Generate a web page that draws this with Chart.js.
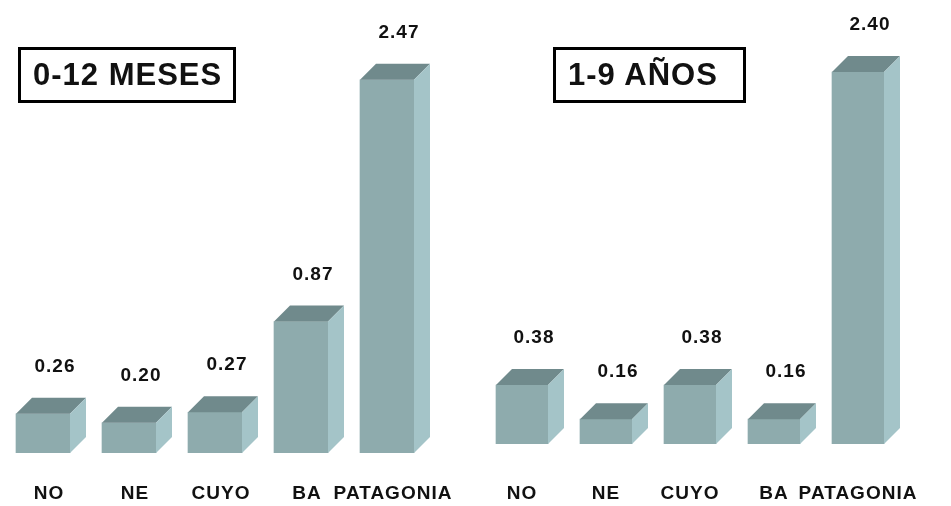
<!DOCTYPE html>
<html>
<head>
<meta charset="utf-8">
<script src="https://cdn.jsdelivr.net/npm/chart.js@4.4.1/dist/chart.umd.min.js"></script>
<style>
    body { margin: 0; background: #fff; }
    #wrap { position: relative; width: 951px; height: 506px; overflow: hidden; }
    canvas { position: absolute; top: 0; }
    #infantChart { left: 0; }
    #childChart { left: 480px; }
    .panel-title {
        position: absolute;
        top: 47px;
        height: 56px;
        box-sizing: border-box;
        border: 3px solid #000;
        padding-left: 12px;
        font: bold 31px 'Liberation Sans', Arial, sans-serif;
        letter-spacing: 1px;
        line-height: 50px;
        color: #111;
        white-space: nowrap;
    }
</style>
</head>
<body>
<div id="wrap">
    <canvas id="infantChart" width="480" height="506"></canvas>
    <canvas id="childChart" width="471" height="506"></canvas>
    <div class="panel-title" id="titleLeft" style="left:18px;width:218px;"></div>
    <div class="panel-title" id="titleRight" style="left:553px;width:193px;"></div>
</div>
<script>
const regions = ['NO', 'NE', 'CUYO', 'BA', 'PATAGONIA'];
const infantRates = [0.26, 0.20, 0.27, 0.87, 2.47];
const childRates = [0.38, 0.16, 0.38, 0.16, 2.40];
const panelTitles = ['0-12 MESES', '1-9 AÑOS'];

const FONT = "'Liberation Sans', Arial, sans-serif";
const DEPTH = 16;
const frontColor = 'rgb(142, 171, 173)';
const topColor = 'rgb(112, 138, 140)';
const sideColor = 'rgb(164, 196, 200)';

document.getElementById('titleLeft').textContent = panelTitles[0];
document.getElementById('titleRight').textContent = panelTitles[1];

// draws the top and side faces of each bar plus its value
const boxPlugin = {
    id: 'box3d',
    beforeDraw(chart) {
        // the original lettering is a bit wider than Arial
        chart.ctx.letterSpacing = '1px';
    },
    afterDatasetsDraw(chart) {
        const ctx = chart.ctx;
        const values = chart.data.datasets[0].data;
        ctx.save();
        chart.getDatasetMeta(0).data.forEach((bar, i) => {
            const l = bar.x - bar.width / 2;
            const r = bar.x + bar.width / 2;
            const top = bar.y;
            const base = bar.base;

            ctx.fillStyle = topColor;
            ctx.beginPath();
            ctx.moveTo(l, top);
            ctx.lineTo(l + DEPTH, top - DEPTH);
            ctx.lineTo(r + DEPTH, top - DEPTH);
            ctx.lineTo(r, top);
            ctx.closePath();
            ctx.fill();

            ctx.fillStyle = sideColor;
            ctx.beginPath();
            ctx.moveTo(r, top);
            ctx.lineTo(r + DEPTH, top - DEPTH);
            ctx.lineTo(r + DEPTH, base - DEPTH);
            ctx.lineTo(r, base);
            ctx.closePath();
            ctx.fill();

            ctx.fillStyle = '#111';
            ctx.font = 'bold 19px ' + FONT;
            ctx.letterSpacing = '1px';
            ctx.textAlign = 'center';
            ctx.textBaseline = 'middle';
            ctx.fillText(values[i].toFixed(2), bar.x + 12, top - DEPTH - 31);
        });
        ctx.restore();
    }
};

function makeChart(id, values, opts) {
    const ctx = document.getElementById(id).getContext('2d');
    return new Chart(ctx, {
        type: 'bar',
        data: {
            labels: regions,
            datasets: [{
                data: values,
                backgroundColor: frontColor,
                borderWidth: 0,
                barThickness: opts.barWidth
            }]
        },
        options: {
            responsive: false,
            animation: false,
            layout: { padding: opts.padding },
            plugins: {
                legend: { display: false },
                tooltip: { enabled: false }
            },
            scales: {
                x: {
                    grid: { display: false, drawTicks: false },
                    border: { display: false },
                    ticks: {
                        color: '#111',
                        font: { family: FONT, size: 19, weight: 'bold' },
                        padding: opts.tickPad,
                        labelOffset: opts.labelOffset,
                        autoSkip: false,
                        maxRotation: 0
                    },
                    afterFit(scale) {
                        scale.height = opts.axisHeight;
                        scale.paddingLeft = 0;
                        scale.paddingRight = 0;
                    }
                },
                y: {
                    display: false,
                    min: 0,
                    max: 2.8
                }
            }
        },
        plugins: [boxPlugin]
    });
}

makeChart('infantChart', infantRates, {
    barWidth: 54,
    padding: { top: 30, right: 50, bottom: 1, left: 0 },
    tickPad: 29,
    labelOffset: 6,
    axisHeight: 52
});

makeChart('childChart', childRates, {
    barWidth: 52,
    padding: { top: 10, right: 51, bottom: 1, left: 0 },
    tickPad: 38,
    labelOffset: 0,
    axisHeight: 61
});
</script>
</body>
</html>
